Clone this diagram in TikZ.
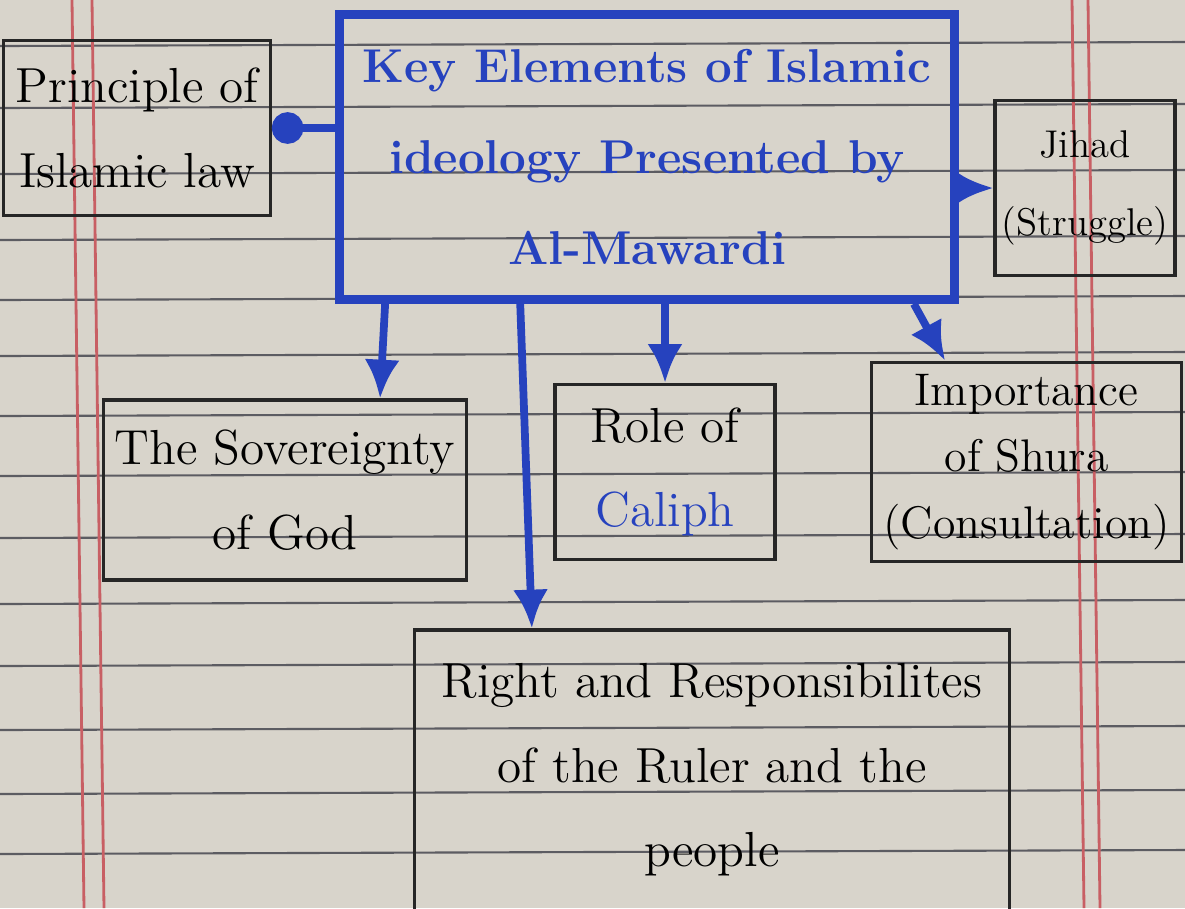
\documentclass[tikz,border=0pt]{standalone}
\usetikzlibrary{arrows.meta}
\definecolor{inkblue}{RGB}{38,66,190}
\definecolor{paper}{RGB}{216,212,203}
\definecolor{ruleline}{RGB}{92,92,98}
\definecolor{marginred}{RGB}{200,95,100}
\begin{document}
\begin{tikzpicture}[x=0.01cm, y=-0.01cm,
    box/.style={draw=black!85, line width=0.9pt, align=center, font=\fontsize{14}{24}\selectfont},
    keybox/.style={draw=inkblue, line width=2.4pt, text=inkblue, align=center, font=\fontsize{13.5}{26}\selectfont\bfseries},
    arr/.style={inkblue, line width=2.2pt, -{Latex[length=11pt,width=10pt]}},
    dotarr/.style={inkblue, line width=2.2pt, -{Circle[length=9pt]}}]
    % Paper and its ruling
    \useasboundingbox (0,0) rectangle (1185,908);
    \clip (0,0) rectangle (1185,908);
    \fill[paper] (0,0) rectangle (1185,908);
    \foreach \y in {42,104,170,236,296,352,412,472,534,600,662,726,790,850} {
            \draw[ruleline, line width=0.6pt] (0,\y+4) -- (1185,\y);
        }
    \foreach \x in {72,92,1072,1088} {
            \draw[marginred, line width=0.8pt] (\x,0) -- (\x+12,908);
        }
    % Central box
    \node[keybox, minimum width=6.15cm, minimum height=2.85cm] (key) at (647,157)
        {Key Elements of Islamic\\ideology Presented by\\Al-Mawardi};
    % Surrounding boxes
    \node[box, minimum width=2.65cm, minimum height=1.75cm] (law) at (137,128)
        {Principle of\\Islamic law};
    \node[box, minimum width=1.8cm, minimum height=1.75cm, inner sep=1pt, font=\fontsize{11}{22}\selectfont] (jihad) at (1085,188)
        {Jihad\\(Struggle)};
    \node[box, minimum width=3.1cm, minimum height=1.8cm] (god) at (285,490)
        {The Sovereignty\\of God};
    \node[box, minimum width=2.2cm, minimum height=1.75cm] (caliph) at (665,472)
        {Role of\\\textcolor{inkblue}{Caliph}};
    \node[box, minimum width=3.1cm, minimum height=1.75cm, anchor=west, font=\fontsize{13}{19}\selectfont] (shura) at (870,462)
        {Importance\\of Shura\\(Consultation)};
    \node[box, minimum width=5.95cm, minimum height=2.8cm] (rights) at (712,770)
        {Right and Responsibilites\\of the Ruler and the\\people};
    % Connectors
    \draw[dotarr] (key.west |- law.east) -- (law.east);
    \draw[arr] (key.east |- jihad.west) -- (jihad.west);
    \draw[arr] ([xshift=0.5cm]key.south west) -- ([xshift=0.95cm]god.north);
    \draw[arr] (caliph.north |- key.south) -- (caliph.north);
    \draw[arr] ([xshift=-0.45cm]key.south east) -- ([xshift=0.75cm]shura.north west);
    \draw[arr] ([xshift=1.85cm]key.south west) -- ([xshift=-1.8cm]rights.north);
\end{tikzpicture}
\end{document}
